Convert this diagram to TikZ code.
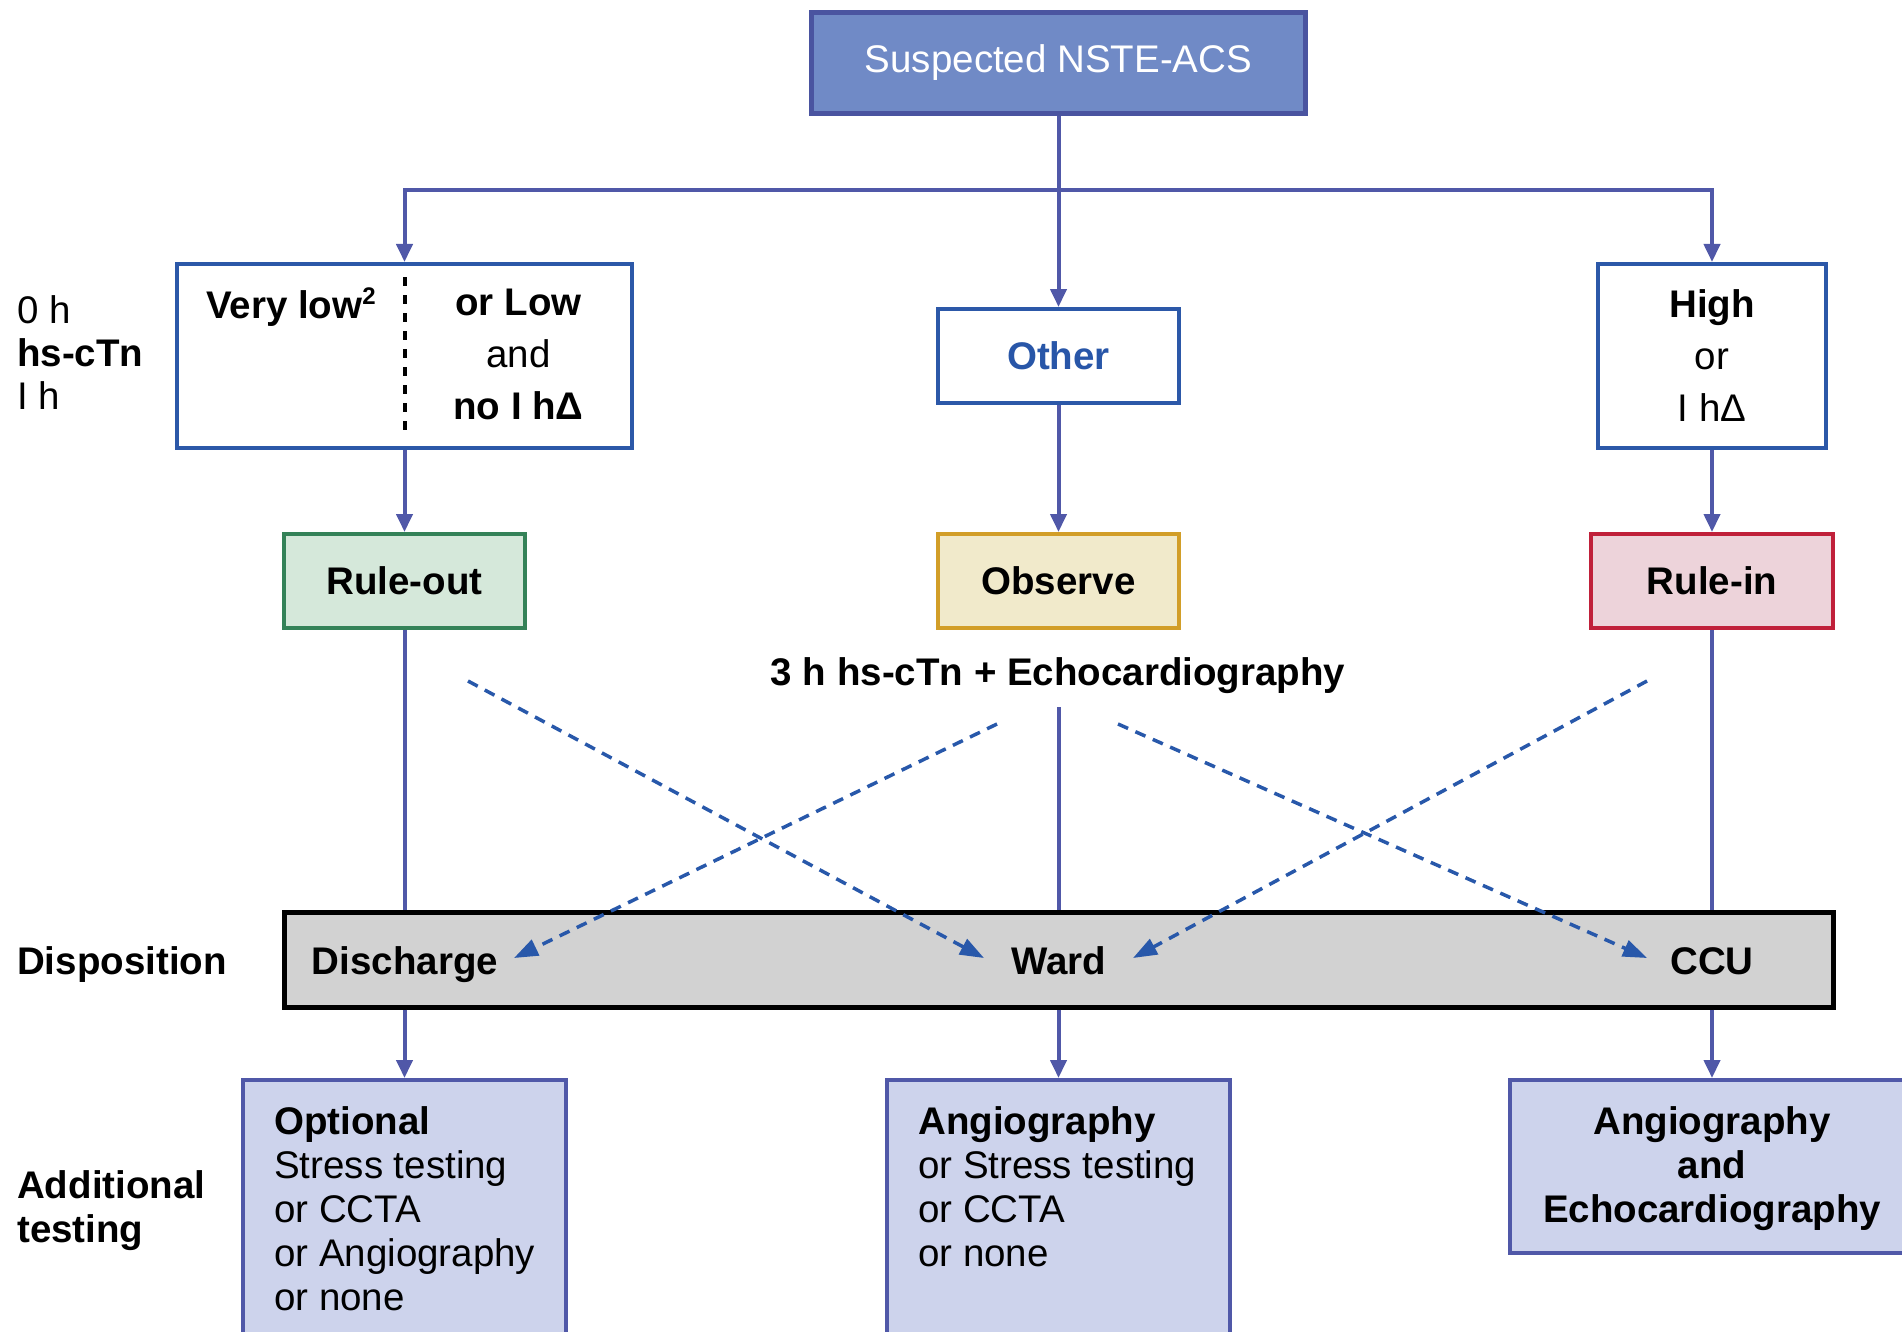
\documentclass[tikz,border=0pt]{standalone}
\usepackage{fontspec}
\setmainfont{Liberation Sans}
\usetikzlibrary{arrows.meta}

\definecolor{conn}{RGB}{80,88,168}
\definecolor{boxline}{RGB}{44,88,168}
\definecolor{topfill}{RGB}{112,138,198}
\definecolor{topline}{RGB}{74,84,160}
\definecolor{dashblue}{RGB}{40,88,170}
\definecolor{greenfill}{RGB}{213,232,218}
\definecolor{greenline}{RGB}{52,130,88}
\definecolor{obsfill}{RGB}{241,234,203}
\definecolor{obsline}{RGB}{210,158,40}
\definecolor{redfill}{RGB}{237,211,218}
\definecolor{redline}{RGB}{192,32,58}
\definecolor{testfill}{RGB}{205,211,236}
\definecolor{barfill}{RGB}{210,210,210}
\definecolor{othertext}{RGB}{40,86,168}

\tikzset{
  txt/.style={font=\fontsize{38.5}{44}\selectfont, inner sep=0pt, text=black},
  btxt/.style={font=\fontsize{38.5}{44}\selectfont\bfseries, inner sep=0pt, text=black},
  wide/.style={font=\fontsize{38.5}{52}\selectfont, inner sep=0pt, text=black},
  whitebox/.style={draw=boxline, fill=white, line width=4pt, inner sep=0pt},
  statebox/.style={line width=4pt, inner sep=0pt, minimum width=241pt, minimum height=94pt},
  testbox/.style={draw=conn, fill=testfill, line width=4pt, inner sep=0pt},
  link/.style={draw=conn, line width=4pt},
  arr/.style={link, -{Triangle[length=18pt,width=16pt]}},
  darr/.style={draw=dashblue, line width=3.5pt, dash pattern=on 11pt off 8pt,
    -{Triangle[length=24pt,width=17pt]}},
}

\begin{document}
\begin{tikzpicture}[x=1pt,y=-1pt]
\useasboundingbox (0,0) rectangle (1902,1332);
\clip (0,0) rectangle (1902,1332);

% entry point
\node[draw=topline, fill=topfill, line width=4.5pt, minimum width=494pt,
      minimum height=101pt, inner sep=0pt] (top) at (1058.5,63)
      {\fontsize{38.5}{44}\selectfont\color{white}Suspected NSTE-ACS};

% 0 h / 1 h troponin categories
\node[whitebox, minimum width=455pt, minimum height=184pt] (verylow) at (404.5,356) {};
\draw[line width=4pt, dash pattern=on 9pt off 9pt] (verylow.north) ++(0,15)
  coordinate (divtop) -- (verylow.south |- 0,434) coordinate (divbot);
\node[btxt, anchor=base] (vlow) at (291,318)
  {Very low\raisebox{14pt}{\fontsize{24}{24}\selectfont 2}};
\node[wide, anchor=north, align=center] (lowtxt) at (518.5,289)
  {\textbf{or Low}\\and\\\textbf{no I hΔ}};

\node[whitebox, minimum width=241pt, minimum height=94pt] (other) at (1058.5,356)
  {\fontsize{38.5}{44}\selectfont\bfseries\color{othertext}Other};

\node[whitebox, minimum width=228pt, minimum height=184pt] (high) at (1712,356) {};
\node[wide, anchor=north, align=center] (hightxt) at (1712,289)
  {\textbf{High}\\or\\I hΔ};

\node[txt, anchor=north west, align=left, font=\fontsize{38.5}{43}\selectfont]
  (hslabel) at (17,295) {0 h\\\textbf{hs-cTn}\\I h};

% triage result
\node[statebox, draw=greenline, fill=greenfill, btxt] (ruleout) at (404.5,581) {Rule-out};
\node[statebox, draw=obsline, fill=obsfill, btxt] (observe) at (1058.5,581) {Observe};
\node[statebox, draw=redline, fill=redfill, btxt, minimum width=242pt] (rulein)
  at (1712,581) {Rule-in};

\node[btxt, anchor=base] (threeh) at (1058,685) {3 h hs-cTn + Echocardiography};
\coordinate (midstart) at (1058.5,707);

% disposition bar
\node[draw=black, fill=barfill, line width=5pt, minimum width=1549pt,
      minimum height=95pt, inner sep=0pt] (bar) at (1058.5,959.5) {};
\node[btxt, anchor=base] (discharge) at (405,974) {Discharge};
\node[btxt, anchor=base] (ward) at (1059,974) {Ward};
\node[btxt, anchor=base] (ccu) at (1712,974) {CCU};
\node[btxt, anchor=base west] (disp) at (17,974) {Disposition};

% additional testing
\node[testbox, minimum width=323pt, minimum height=290pt] (opt) at (404.5,1225) {};
\node[txt, anchor=north west, align=left] (opttxt) at (274,1106)
  {\textbf{Optional}\\Stress testing\\or CCTA\\or Angiography\\or none};
\node[testbox, minimum width=343pt, minimum height=290pt] (mid) at (1058.5,1225) {};
\node[txt, anchor=north west, align=left] (midtxt) at (918,1106)
  {\textbf{Angiography}\\or Stress testing\\or CCTA\\or none};
\node[testbox, minimum width=404pt, minimum height=173pt] (right) at (1712,1166.5) {};
\node[btxt, anchor=north, align=center] (righttxt) at (1712,1106)
  {Angiography\\and\\Echocardiography};
\node[btxt, anchor=north west, align=left] (addtest) at (17,1170)
  {Additional\\testing};

% connectors
\draw[arr] (top.south) -- (other.north);
\draw[arr] (top.south) -- ++(0,74) -| (verylow.north);
\draw[arr] (top.south) -- ++(0,74) -| (high.north);
\draw[arr] (verylow.south) -- (ruleout.north);
\draw[arr] (other.south) -- (observe.north);
\draw[arr] (high.south) -- (rulein.north);
\draw[link] (ruleout.south) -- (ruleout.south |- bar.north);
\draw[link] (midstart) -- (midstart |- bar.north);
\draw[link] (rulein.south) -- (rulein.south |- bar.north);
\draw[arr] (opt.north |- bar.south) -- (opt.north);
\draw[arr] (mid.north |- bar.south) -- (mid.north);
\draw[arr] (right.north |- bar.south) -- (right.north);

% cross-over paths
\coordinate (a1) at (468,681);  \coordinate (a2) at (984,958);
\coordinate (b1) at (997,724);  \coordinate (b2) at (514,958);
\coordinate (c1) at (1118,724); \coordinate (c2) at (1647,958);
\coordinate (d1) at (1647,681); \coordinate (d2) at (1133,958);
\draw[darr] (a1) -- (a2);
\draw[darr] (b1) -- (b2);
\draw[darr] (c1) -- (c2);
\draw[darr] (d1) -- (d2);
\end{tikzpicture}
\end{document}
